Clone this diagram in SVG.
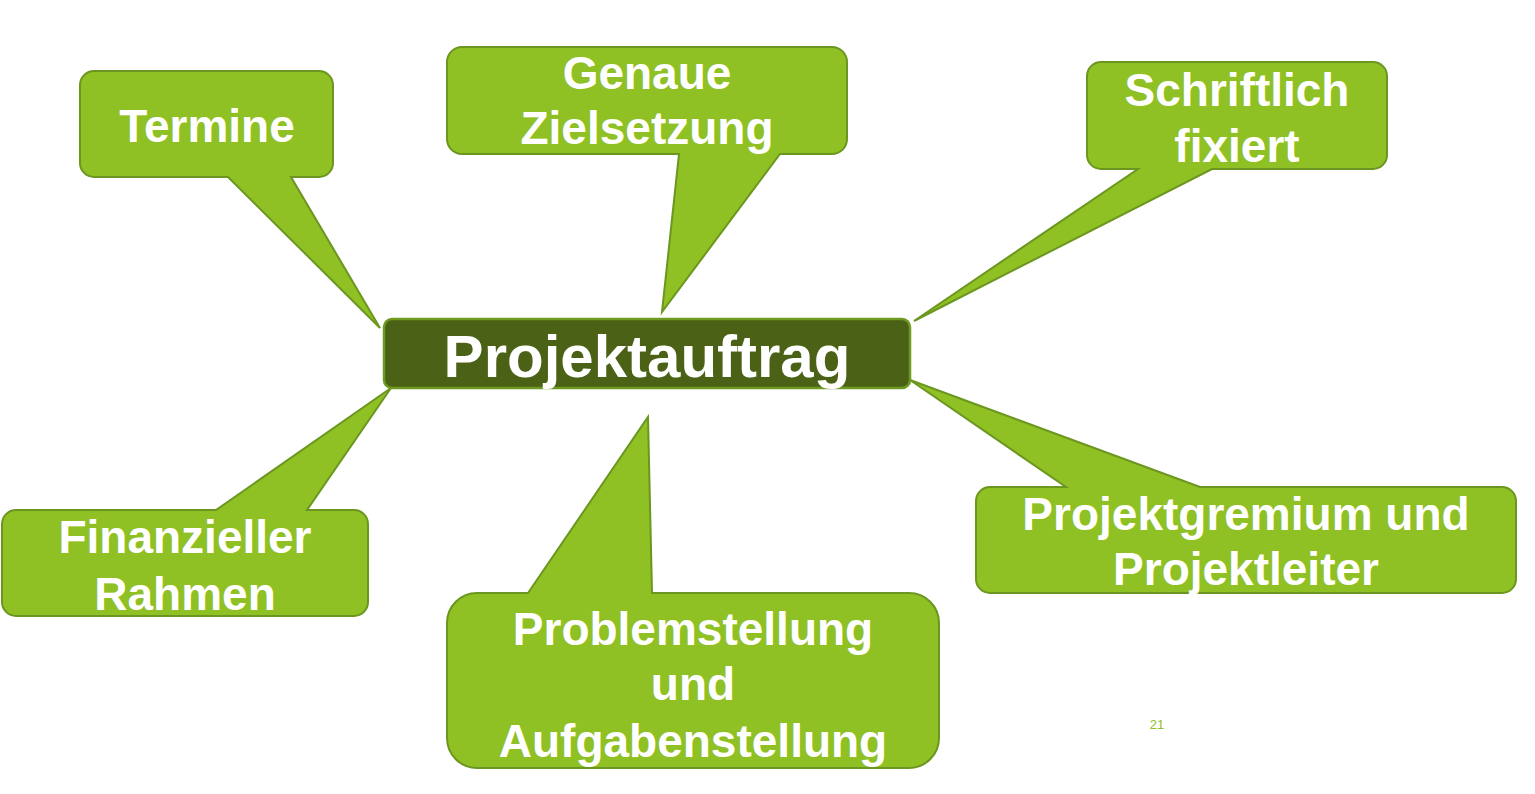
<svg xmlns="http://www.w3.org/2000/svg" width="1535" height="794" viewBox="0 0 1535 794">
<style>
.bub{fill:#8fc125;stroke:#6b961f;stroke-width:2;stroke-linejoin:miter}
.ctr{fill:#4a6116;stroke:#6e9a22;stroke-width:2.5}
.t{font-family:"Liberation Sans",Arial,sans-serif;font-weight:bold;fill:#ffffff;text-anchor:middle;font-size:46px}
.tc{font-size:60px}
.pg{font-family:"Liberation Sans",Arial,sans-serif;font-size:13px;fill:#8fc125;text-anchor:middle}
</style>
<rect width="1535" height="794" fill="#ffffff"/>
<g id="connectors"></g>
<g id="termine">
<path class="bub" d="M94,71 H319 A14,14 0 0 1 333,85 V163 A14,14 0 0 1 319,177 H291 L380,328 L228,177 H94 A14,14 0 0 1 80,163 V85 A14,14 0 0 1 94,71 Z"/>
<text class="t" x="207" y="142">Termine</text>
</g>
<g id="zielsetzung">
<path class="bub" d="M462,47 H832 A15,15 0 0 1 847,62 V139 A15,15 0 0 1 832,154 H780 L662,312 L679,154 H462 A15,15 0 0 1 447,139 V62 A15,15 0 0 1 462,47 Z"/>
<text class="t" x="647" y="89">Genaue</text>
<text class="t" x="647" y="144">Zielsetzung</text>
</g>
<g id="schriftlich">
<path class="bub" d="M1101,62 H1373 A14,14 0 0 1 1387,76 V155 A14,14 0 0 1 1373,169 H1212 L914,321 L1138,169 H1101 A14,14 0 0 1 1087,155 V76 A14,14 0 0 1 1101,62 Z"/>
<text class="t" x="1237" y="106">Schriftlich</text>
<text class="t" x="1237" y="162">fixiert</text>
</g>
<g id="finanzieller">
<path class="bub" d="M16,510 H216 L391,388 L307,510 H354 A14,14 0 0 1 368,524 V602 A14,14 0 0 1 354,616 H16 A14,14 0 0 1 2,602 V524 A14,14 0 0 1 16,510 Z"/>
<text class="t" x="185" y="553">Finanzieller</text>
<text class="t" x="185" y="610">Rahmen</text>
</g>
<g id="problemstellung">
<path class="bub" d="M477,593 H528 L648,417 L652,593 H909 A30,30 0 0 1 939,623 V738 A30,30 0 0 1 909,768 H477 A30,30 0 0 1 447,738 V623 A30,30 0 0 1 477,593 Z"/>
<text class="t" x="693" y="645">Problemstellung</text>
<text class="t" x="693" y="700">und</text>
<text class="t" x="693" y="757">Aufgabenstellung</text>
</g>
<g id="projektgremium">
<path class="bub" d="M990,487 H1066 L910,380 L1200,487 H1502 A14,14 0 0 1 1516,501 V579 A14,14 0 0 1 1502,593 H990 A14,14 0 0 1 976,579 V501 A14,14 0 0 1 990,487 Z"/>
<text class="t" x="1246" y="530">Projektgremium und</text>
<text class="t" x="1246" y="585">Projektleiter</text>
</g>
<g id="projektauftrag">
<rect class="ctr" x="384" y="319" width="526" height="69" rx="8"/>
<text class="t tc" x="647" y="377">Projektauftrag</text>
</g>
<g id="pagenumber">
<text class="pg" x="1157" y="729">21</text>
</g>
</svg>
